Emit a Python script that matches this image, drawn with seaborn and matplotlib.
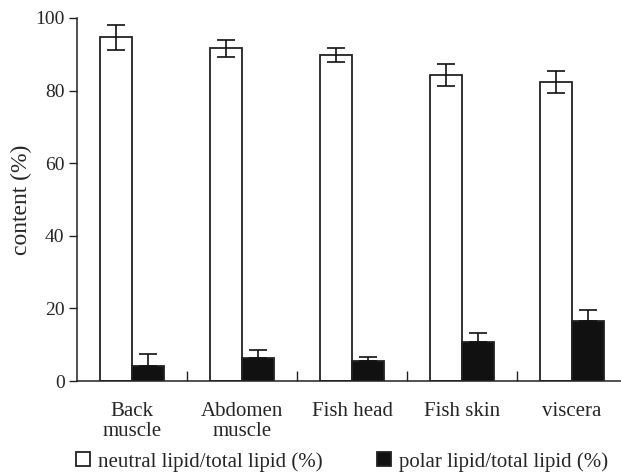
import matplotlib
matplotlib.use("Agg")
import matplotlib.pyplot as plt
import seaborn as sns
import pandas as pd
import numpy as np

categories = ["Back\nmuscle", "Abdomen\nmuscle", "Fish head", "Fish skin", "viscera"]
series_names = ["neutral lipid/total lipid (%)", "polar lipid/total lipid (%)"]
neutral = [94.7, 91.6, 89.7, 84.3, 82.4]
neutral_err = [3.5, 2.3, 1.9, 3.0, 3.0]
polar = [4.1, 6.2, 5.6, 10.7, 16.6]
polar_err = [3.4, 2.4, 1.0, 2.4, 2.9]
yticks = [0, 20, 40, 60, 80, 100]

df = pd.DataFrame({
    "tissue": categories * 2,
    "value": neutral + polar,
    "lipid": [series_names[0]] * 5 + [series_names[1]] * 5,
})

sns.set_style("ticks")
plt.rcParams["font.family"] = ["Liberation Serif", "DejaVu Serif"]

fig = plt.figure(figsize=(6.21, 4.73), dpi=100)
ax = fig.add_axes([77 / 621, 1 - 381 / 473, 1 - 77 / 621, (381 - 18) / 473])

sns.barplot(data=df, x="tissue", y="value", hue="lipid",
            palette={series_names[0]: "white", series_names[1]: "#111111"},
            edgecolor="#222222", linewidth=1.3, width=0.58, gap=0,
            errorbar=None, ax=ax)

for cont, err, lower in zip(ax.containers, [neutral_err, polar_err], [True, False]):
    xs = [p.get_x() + p.get_width() / 2 for p in cont.patches]
    ys = [p.get_height() for p in cont.patches]
    yerr = [err if lower else [0] * len(err), err]
    ax.errorbar(xs, ys, yerr=yerr, fmt="none", ecolor="#111111",
                elinewidth=1.2, capsize=6.5, capthick=1.2)

ax.set_ylim(0, 100)
ax.set_xlim(-0.5, 4.445)
ax.set_yticks(yticks)
ax.tick_params(axis="y", direction="out", length=6, width=1, labelsize=14, pad=3, color="#222222")
ax.tick_params(axis="x", length=0, labelsize=15, pad=15)
ax.set_xticks(np.arange(0.5, 4.5, 1), minor=True)
ax.tick_params(axis="x", which="minor", direction="in", length=7, width=1, color="#222222")
for lab in ax.get_xticklabels():
    lab.set_linespacing(1.05)
ax.set_xlabel("")
ax.set_ylabel("content (%)", fontsize=17, labelpad=2)
for s in ["top", "right"]:
    ax.spines[s].set_visible(False)
for s in ["left", "bottom"]:
    ax.spines[s].set_linewidth(1.1)
    ax.spines[s].set_color("#222222")

sns.move_legend(ax, "lower left", bbox_to_anchor=(68 / 621, -0.015),
                bbox_transform=fig.transFigure, ncol=2, frameon=False, title=None,
                fontsize=15, handlelength=0.65, handleheight=0.65, handletextpad=0.4,
                columnspacing=2.6, borderaxespad=0)

fig.savefig("out.png", dpi=100)
